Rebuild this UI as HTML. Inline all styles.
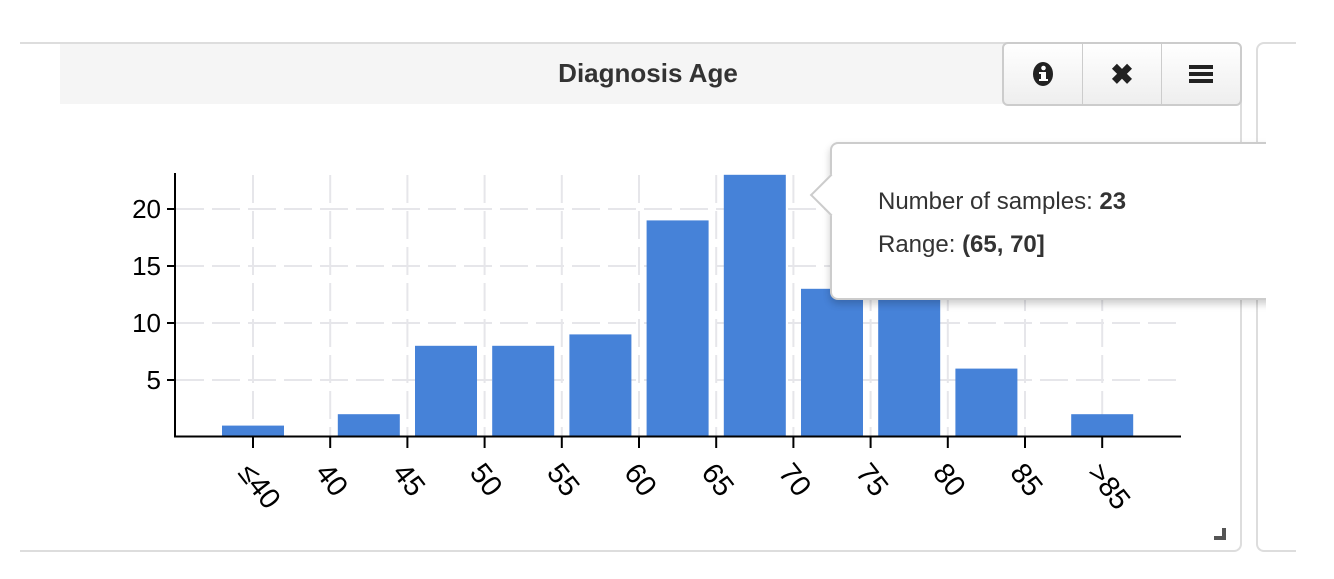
<!DOCTYPE html>
<html><head><meta charset="utf-8">
<style>
body{margin:0;width:1334px;height:579px;background:#fff;overflow:hidden;font-family:"Liberation Sans",Arial,sans-serif;position:relative}
.panel{position:absolute;left:20px;top:42px;width:1222px;height:510px;border:2px solid #ddd;border-left:none;border-radius:0 8px 8px 0;box-sizing:border-box}
.header{position:absolute;left:60px;top:44px;width:1180px;height:60px;background:#f5f5f5}
.title{position:absolute;left:0;width:1296px;top:58px;text-align:center;font-weight:bold;font-size:26px;color:#333}
.btns{position:absolute;left:1002px;top:42px;width:240px;height:64px;border:2px solid #ccc;border-radius:6px;box-sizing:border-box;background:linear-gradient(#fff,#eee);display:flex}
.btn{flex:1;border-right:1px solid #ccc;display:flex;align-items:center;justify-content:center;font-size:28px;font-weight:bold;color:#222}
.btn:last-child{border-right:none}
.panel2{position:absolute;left:1256px;top:42px;width:40px;height:510px;border:2px solid #ddd;border-right:none;border-radius:8px 0 0 8px;box-sizing:border-box}
.clip{position:absolute;left:780px;top:120px;width:486px;height:210px;overflow:hidden}
.tip{position:absolute;left:50px;top:22px;width:480px;height:158px;background:#fff;border:2px solid #ccc;border-radius:8px;box-shadow:0 4px 8px rgba(0,0,0,.2);box-sizing:border-box;font-size:24px;color:#333}
.tip .arrow{position:absolute;left:-16px;top:36px;width:28px;height:28px;background:#fff;border-left:2px solid #ccc;border-bottom:2px solid #ccc;transform:rotate(45deg)}
</style></head><body>
<div class="panel"></div>
<div class="panel2"></div>
<div class="header"></div>
<div class="title">Diagnosis Age</div>
<div class="btns">
<div class="btn"><svg width="24" height="28" viewBox="0 0 24 26"><ellipse cx="12" cy="13" rx="10" ry="12" fill="#222"/><rect x="10" y="11" width="5" height="9" fill="#fff"/><rect x="8" y="11" width="4" height="2" fill="#fff"/><rect x="8" y="18" width="9" height="2" fill="#fff"/><circle cx="12.5" cy="7" r="2.3" fill="#fff"/></svg></div>
<div class="btn">✖</div>
<div class="btn"><svg width="24" height="22"><rect y="2" width="24" height="4" fill="#222"/><rect y="9" width="24" height="4" fill="#222"/><rect y="16" width="24" height="4" fill="#222"/></svg></div>
</div>
<svg id="chart" width="1334" height="579" style="position:absolute;left:0;top:0"></svg>
<svg style="position:absolute;left:1214px;top:528px" width="14" height="14"><rect x="8" y="0" width="4" height="12" fill="#555"/><rect x="0" y="8" width="12" height="4" fill="#555"/></svg>
<div class="clip">
<div class="tip">
<div class="arrow"></div>
<div style="position:absolute;left:46px;top:44px">Number of samples: <b>23</b></div>
<div style="position:absolute;left:46px;top:87px">Range: <b>(65, 70]</b></div>
</div>
</div>
<script>
const tickLabels=["≤40","40","45","50","55","60","65","70","75","80","85",">85"];
const counts=[1,2,8,8,9,19,23,13,16,6,2];
const barSlots=[0,1.5,2.5,3.5,4.5,5.5,6.5,7.5,8.5,9.5,11];
const yTicks=[5,10,15,20];
const NS="http://www.w3.org/2000/svg";
const svg=document.getElementById('chart');
const x=i=>253+i*77.2;
const y=v=>437-v*11.4;
function mk(t,a){const e=document.createElementNS(NS,t);for(const k in a)e.setAttribute(k,a[k]);svg.appendChild(e);return e;}
yTicks.forEach(v=>{const g=mk('line',{x1:176,x2:1180,y1:y(v),y2:y(v),stroke:'#e6e6ea','stroke-width':2,'stroke-dasharray':'28,8'});

});
tickLabels.forEach((l,i)=>{const g=mk('line',{x1:x(i),x2:x(i),y1:175,y2:436,stroke:'#e6e6ea','stroke-width':2,'stroke-dasharray':'28,8'});

});
counts.forEach((c,i)=>{const cx=x(barSlots[i]);const r=mk('rect',{x:cx-31,y:y(c),width:62,height:y(0)-y(c),fill:'#4682d8'});

});
const ya=mk('line',{x1:175,x2:175,y1:173,y2:437,stroke:'#000','stroke-width':2});


const xa=mk('line',{x1:174,x2:1181,y1:436.5,y2:436.5,stroke:'#000','stroke-width':2});


yTicks.forEach(v=>{mk('line',{x1:167,x2:175,y1:y(v),y2:y(v),stroke:'#000','stroke-width':2});
const t=mk('text',{x:161,y:y(v)+9,'text-anchor':'end','font-size':26,fill:'#000'});t.textContent=v;

});
tickLabels.forEach((l,i)=>{mk('line',{x1:x(i),x2:x(i),y1:437,y2:448,stroke:'#000','stroke-width':2});
const t=mk('text',{x:0,y:0,'font-size':29,fill:'#000',transform:`translate(${x(i)-16},${473}) rotate(52)`});t.textContent=l;

});
</script>
</body></html>
